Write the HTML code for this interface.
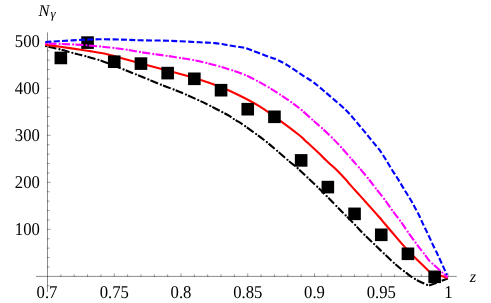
<!DOCTYPE html>
<html><head><meta charset="utf-8"><title>plot</title>
<style>
html,body{margin:0;padding:0;background:#fff;}
body{width:491px;height:303px;overflow:hidden;}
svg{display:block;}
text{font-family:"Liberation Serif",serif;fill:#000;text-rendering:geometricPrecision;}
svg{will-change:transform;}
</style></head><body>
<svg width="491" height="303" viewBox="0 0 491 303">
<rect width="491" height="303" fill="#fff"/>
<g fill-opacity="0.45">
<rect x="36" y="275.9" width="420.8" height="1" fill="#000"/>
<rect x="47" y="32.4" width="1" height="259.6" fill="#000"/>
</g>
<g stroke="#000" stroke-width="0.9" stroke-opacity="0.42" fill="none">
<line x1="60.85" y1="276.9" x2="60.85" y2="274.30"/>
<line x1="74.20" y1="276.9" x2="74.20" y2="274.30"/>
<line x1="87.55" y1="276.9" x2="87.55" y2="274.30"/>
<line x1="100.90" y1="276.9" x2="100.90" y2="274.30"/>
<line x1="114.25" y1="276.9" x2="114.25" y2="273.20"/>
<line x1="127.60" y1="276.9" x2="127.60" y2="274.30"/>
<line x1="140.95" y1="276.9" x2="140.95" y2="274.30"/>
<line x1="154.30" y1="276.9" x2="154.30" y2="274.30"/>
<line x1="167.65" y1="276.9" x2="167.65" y2="274.30"/>
<line x1="181.00" y1="276.9" x2="181.00" y2="273.20"/>
<line x1="194.35" y1="276.9" x2="194.35" y2="274.30"/>
<line x1="207.70" y1="276.9" x2="207.70" y2="274.30"/>
<line x1="221.05" y1="276.9" x2="221.05" y2="274.30"/>
<line x1="234.40" y1="276.9" x2="234.40" y2="274.30"/>
<line x1="247.75" y1="276.9" x2="247.75" y2="273.20"/>
<line x1="261.10" y1="276.9" x2="261.10" y2="274.30"/>
<line x1="274.45" y1="276.9" x2="274.45" y2="274.30"/>
<line x1="287.80" y1="276.9" x2="287.80" y2="274.30"/>
<line x1="301.15" y1="276.9" x2="301.15" y2="274.30"/>
<line x1="314.50" y1="276.9" x2="314.50" y2="273.20"/>
<line x1="327.85" y1="276.9" x2="327.85" y2="274.30"/>
<line x1="341.20" y1="276.9" x2="341.20" y2="274.30"/>
<line x1="354.55" y1="276.9" x2="354.55" y2="274.30"/>
<line x1="367.90" y1="276.9" x2="367.90" y2="274.30"/>
<line x1="381.25" y1="276.9" x2="381.25" y2="273.20"/>
<line x1="394.60" y1="276.9" x2="394.60" y2="274.30"/>
<line x1="407.95" y1="276.9" x2="407.95" y2="274.30"/>
<line x1="421.30" y1="276.9" x2="421.30" y2="274.30"/>
<line x1="434.65" y1="276.9" x2="434.65" y2="274.30"/>
<line x1="448.00" y1="276.9" x2="448.00" y2="273.20"/>
<line x1="47" y1="285.73" x2="49.60" y2="285.73"/>
<line x1="47" y1="266.93" x2="49.60" y2="266.93"/>
<line x1="47" y1="257.53" x2="49.60" y2="257.53"/>
<line x1="47" y1="248.13" x2="49.60" y2="248.13"/>
<line x1="47" y1="238.73" x2="49.60" y2="238.73"/>
<line x1="47" y1="229.33" x2="50.70" y2="229.33"/>
<line x1="47" y1="219.94" x2="49.60" y2="219.94"/>
<line x1="47" y1="210.54" x2="49.60" y2="210.54"/>
<line x1="47" y1="201.14" x2="49.60" y2="201.14"/>
<line x1="47" y1="191.74" x2="49.60" y2="191.74"/>
<line x1="47" y1="182.34" x2="50.70" y2="182.34"/>
<line x1="47" y1="172.94" x2="49.60" y2="172.94"/>
<line x1="47" y1="163.54" x2="49.60" y2="163.54"/>
<line x1="47" y1="154.14" x2="49.60" y2="154.14"/>
<line x1="47" y1="144.74" x2="49.60" y2="144.74"/>
<line x1="47" y1="135.34" x2="50.70" y2="135.34"/>
<line x1="47" y1="125.95" x2="49.60" y2="125.95"/>
<line x1="47" y1="116.55" x2="49.60" y2="116.55"/>
<line x1="47" y1="107.15" x2="49.60" y2="107.15"/>
<line x1="47" y1="97.75" x2="49.60" y2="97.75"/>
<line x1="47" y1="88.35" x2="50.70" y2="88.35"/>
<line x1="47" y1="78.95" x2="49.60" y2="78.95"/>
<line x1="47" y1="69.55" x2="49.60" y2="69.55"/>
<line x1="47" y1="60.15" x2="49.60" y2="60.15"/>
<line x1="47" y1="50.75" x2="49.60" y2="50.75"/>
<line x1="47" y1="41.35" x2="50.70" y2="41.35"/>
</g>
<g font-size="16.7">
<text transform="translate(47.00,298.0) scale(1,1.080)" text-anchor="middle">0.7</text>
<text transform="translate(114.25,298.0) scale(1,1.080)" text-anchor="middle">0.75</text>
<text transform="translate(181.00,298.0) scale(1,1.080)" text-anchor="middle">0.8</text>
<text transform="translate(247.75,298.0) scale(1,1.080)" text-anchor="middle">0.85</text>
<text transform="translate(314.50,298.0) scale(1,1.080)" text-anchor="middle">0.9</text>
<text transform="translate(381.25,298.0) scale(1,1.080)" text-anchor="middle">0.95</text>
<text transform="translate(448.40,298.0) scale(1,1.080)" text-anchor="middle">1</text>
<text transform="translate(39.9,235.40) scale(1,1.080)" text-anchor="end">100</text>
<text transform="translate(39.9,188.35) scale(1,1.080)" text-anchor="end">200</text>
<text transform="translate(39.9,141.30) scale(1,1.080)" text-anchor="end">300</text>
<text transform="translate(39.9,94.25) scale(1,1.080)" text-anchor="end">400</text>
<text transform="translate(39.9,47.20) scale(1,1.080)" text-anchor="end">500</text>
</g>
<text x="38.6" y="15.9" font-size="16.5" font-style="italic">N</text>
<text x="50.6" y="17.8" font-size="13" font-style="italic">γ</text>
<text x="469.8" y="281.8" font-size="16.5" font-style="italic">z</text>
<g fill="none" stroke-width="2.1" stroke-linecap="butt" stroke-linejoin="miter">
<path d="M45.20,46.00 C47.73,46.58 55.85,48.36 60.40,49.50 C64.95,50.64 69.08,51.93 72.50,52.85 C75.92,53.77 76.10,53.67 80.90,55.00 C85.70,56.33 94.48,58.50 101.30,60.80 C108.12,63.10 115.35,66.27 121.80,68.80 C128.25,71.33 133.63,73.42 140.00,76.00 C146.37,78.58 153.33,81.63 160.00,84.30 C166.67,86.97 173.65,89.38 180.00,92.00 C186.35,94.62 193.06,97.68 198.10,100.00 C203.14,102.32 206.23,103.88 210.25,105.90 C214.27,107.92 218.89,110.35 222.20,112.10 C225.51,113.85 228.18,115.25 230.10,116.40 C232.02,117.55 232.05,117.95 233.70,119.00 C235.35,120.05 238.07,121.50 240.00,122.70 C241.93,123.90 242.55,124.29 245.25,126.20 C247.95,128.11 252.57,131.47 256.20,134.15 C259.82,136.83 263.48,139.49 267.00,142.30 C270.52,145.11 273.57,147.80 277.30,151.00 C281.03,154.20 286.00,158.62 289.40,161.50 C292.80,164.38 294.72,165.65 297.70,168.30 C300.68,170.95 304.02,174.30 307.30,177.40 C310.58,180.50 313.95,183.55 317.40,186.90 C320.85,190.25 324.23,193.68 328.00,197.50 C331.77,201.32 337.07,206.83 340.00,209.80 C342.93,212.78 343.09,212.84 345.60,215.35 C348.11,217.86 352.02,221.71 355.05,224.85 C358.08,227.99 360.61,230.99 363.80,234.20 C366.99,237.41 371.20,241.21 374.20,244.10 C377.20,246.99 379.17,249.02 381.80,251.55 C384.43,254.08 387.63,257.09 390.00,259.30 C392.37,261.51 394.17,263.18 396.00,264.80 C397.83,266.42 399.28,267.65 401.00,269.00 C402.72,270.35 404.45,271.53 406.30,272.90 C408.15,274.27 410.21,275.93 412.10,277.20 C413.99,278.47 415.58,279.42 417.65,280.50 C419.72,281.58 422.68,282.84 424.50,283.70 C426.32,284.56 427.92,285.32 428.60,285.65 L447.90,278.60" stroke="#000" stroke-dasharray="8.10 5.36" stroke-dashoffset="10.11"/>
<path d="M45.20,46.00 C47.73,46.58 55.85,48.36 60.40,49.50 C64.95,50.64 69.08,51.93 72.50,52.85 C75.92,53.77 76.10,53.67 80.90,55.00 C85.70,56.33 94.48,58.50 101.30,60.80 C108.12,63.10 115.35,66.27 121.80,68.80 C128.25,71.33 133.63,73.42 140.00,76.00 C146.37,78.58 153.33,81.63 160.00,84.30 C166.67,86.97 173.65,89.38 180.00,92.00 C186.35,94.62 193.06,97.68 198.10,100.00 C203.14,102.32 206.23,103.88 210.25,105.90 C214.27,107.92 218.89,110.35 222.20,112.10 C225.51,113.85 228.18,115.25 230.10,116.40 C232.02,117.55 232.05,117.95 233.70,119.00 C235.35,120.05 238.07,121.50 240.00,122.70 C241.93,123.90 242.55,124.29 245.25,126.20 C247.95,128.11 252.57,131.47 256.20,134.15 C259.82,136.83 263.48,139.49 267.00,142.30 C270.52,145.11 273.57,147.80 277.30,151.00 C281.03,154.20 286.00,158.62 289.40,161.50 C292.80,164.38 294.72,165.65 297.70,168.30 C300.68,170.95 304.02,174.30 307.30,177.40 C310.58,180.50 313.95,183.55 317.40,186.90 C320.85,190.25 324.23,193.68 328.00,197.50 C331.77,201.32 337.07,206.83 340.00,209.80 C342.93,212.78 343.09,212.84 345.60,215.35 C348.11,217.86 352.02,221.71 355.05,224.85 C358.08,227.99 360.61,230.99 363.80,234.20 C366.99,237.41 371.20,241.21 374.20,244.10 C377.20,246.99 379.17,249.02 381.80,251.55 C384.43,254.08 387.63,257.09 390.00,259.30 C392.37,261.51 394.17,263.18 396.00,264.80 C397.83,266.42 399.28,267.65 401.00,269.00 C402.72,270.35 404.45,271.53 406.30,272.90 C408.15,274.27 410.21,275.93 412.10,277.20 C413.99,278.47 415.58,279.42 417.65,280.50 C419.72,281.58 422.68,282.84 424.50,283.70 C426.32,284.56 427.92,285.32 428.60,285.65 L447.90,278.60" stroke="#000" stroke-width="2.3" stroke-linecap="round" stroke-dasharray="0 13.46" stroke-dashoffset="12.37"/>
<path d="M45.20,44.70 C47.73,45.05 54.45,45.97 60.40,46.80 C66.35,47.63 75.97,48.98 80.90,49.70 C85.83,50.42 86.60,50.55 90.00,51.10 C93.40,51.65 97.97,52.35 101.30,53.00 C104.63,53.65 106.58,54.13 110.00,55.00 C113.42,55.87 116.80,56.83 121.80,58.20 C126.80,59.57 131.97,61.02 140.00,63.20 C148.03,65.38 160.00,68.55 170.00,71.30 C180.00,74.05 191.67,77.12 200.00,79.70 C208.33,82.28 213.33,84.13 220.00,86.80 C226.67,89.47 233.33,92.40 240.00,95.70 C246.67,99.00 253.33,102.45 260.00,106.60 C266.67,110.75 273.33,115.75 280.00,120.60 C286.67,125.45 295.83,132.40 300.00,135.70 C304.17,139.00 303.35,138.88 305.00,140.40 C306.65,141.92 307.70,142.80 309.90,144.80 C312.10,146.80 315.55,149.87 318.20,152.40 C320.85,154.93 323.67,157.93 325.80,160.00 C327.93,162.07 329.07,163.02 331.00,164.80 C332.93,166.58 334.87,168.17 337.40,170.70 C339.93,173.23 344.13,177.72 346.20,180.00 C348.27,182.28 347.50,181.80 349.80,184.40 C352.10,187.00 357.47,192.80 360.00,195.60 C362.53,198.40 361.67,197.47 365.00,201.20 C368.33,204.93 376.67,214.20 380.00,218.00 C383.33,221.80 381.67,220.07 385.00,224.00 C388.33,227.93 396.70,237.75 400.00,241.60 C403.30,245.45 402.45,244.57 404.80,247.10 C407.15,249.63 409.88,252.60 414.10,256.80 C418.32,261.00 427.43,269.72 430.10,272.30 L447.90,278.10" stroke="#ff0000"/>
</g>
<g fill="#000">
<rect x="54.55" y="51.65" width="12.60" height="12.60"/>
<rect x="81.25" y="36.30" width="12.60" height="12.60"/>
<rect x="107.95" y="55.40" width="12.60" height="12.60"/>
<rect x="134.65" y="57.30" width="12.60" height="12.60"/>
<rect x="161.35" y="66.80" width="12.60" height="12.60"/>
<rect x="188.05" y="72.50" width="12.60" height="12.60"/>
<rect x="214.75" y="83.90" width="12.60" height="12.60"/>
<rect x="241.45" y="102.90" width="12.60" height="12.60"/>
<rect x="268.15" y="110.50" width="12.60" height="12.60"/>
<rect x="294.85" y="154.10" width="12.60" height="12.60"/>
<rect x="321.55" y="180.80" width="12.60" height="12.60"/>
<rect x="348.25" y="207.55" width="12.60" height="12.60"/>
<rect x="374.95" y="228.50" width="12.60" height="12.60"/>
<rect x="401.65" y="247.50" width="12.60" height="12.60"/>
<rect x="428.35" y="270.50" width="12.60" height="12.60"/>
</g>
<g fill="none" stroke-width="2.1" stroke-linecap="butt" stroke-linejoin="miter">
<path d="M45.20,43.40 C47.73,43.50 54.45,43.75 60.40,44.00 C66.35,44.25 74.08,44.47 80.90,44.90 C87.72,45.33 95.62,46.07 101.30,46.60 C106.98,47.13 110.75,47.58 115.00,48.10 C119.25,48.62 122.63,49.05 126.80,49.70 C130.97,50.35 135.60,51.28 140.00,52.00 C144.40,52.72 148.77,53.37 153.20,54.00 C157.63,54.63 162.17,55.15 166.60,55.80 C171.03,56.45 175.38,57.18 179.80,57.90 C184.22,58.62 188.71,59.27 193.10,60.10 C197.49,60.93 201.77,61.84 206.15,62.90 C210.53,63.96 215.08,65.22 219.40,66.45 C223.72,67.68 227.85,68.89 232.10,70.30 C236.35,71.71 240.73,73.12 244.90,74.90 C249.07,76.68 253.11,78.85 257.10,80.95 C261.09,83.05 265.02,85.23 268.85,87.50 C272.68,89.77 276.39,92.12 280.10,94.55 C283.81,96.98 287.68,99.66 291.10,102.10 C294.52,104.54 296.78,106.02 300.60,109.20 C304.43,112.38 310.50,118.05 314.05,121.20 C317.60,124.35 318.94,125.38 321.90,128.10 C324.86,130.82 328.62,134.35 331.80,137.50 C334.98,140.65 337.53,143.25 340.95,147.00 C344.37,150.75 349.31,156.60 352.30,160.00 C355.29,163.40 356.05,164.07 358.90,167.40 C361.75,170.73 366.60,176.52 369.40,180.00 C372.20,183.48 373.23,185.13 375.70,188.30 C378.17,191.47 381.50,195.40 384.20,199.00 C386.90,202.60 389.25,206.28 391.90,209.90 C394.55,213.52 397.47,217.06 400.10,220.70 C402.73,224.34 405.12,228.08 407.70,231.75 C410.28,235.42 413.55,239.89 415.60,242.70 C417.65,245.51 418.42,246.55 420.00,248.60 C421.58,250.65 423.52,252.93 425.10,255.00 C426.68,257.07 428.77,260.00 429.50,261.00 L447.80,277.40" stroke="#ff00ff" stroke-dasharray="8.10 5.36" stroke-dashoffset="10.17"/>
<path d="M45.20,43.40 C47.73,43.50 54.45,43.75 60.40,44.00 C66.35,44.25 74.08,44.47 80.90,44.90 C87.72,45.33 95.62,46.07 101.30,46.60 C106.98,47.13 110.75,47.58 115.00,48.10 C119.25,48.62 122.63,49.05 126.80,49.70 C130.97,50.35 135.60,51.28 140.00,52.00 C144.40,52.72 148.77,53.37 153.20,54.00 C157.63,54.63 162.17,55.15 166.60,55.80 C171.03,56.45 175.38,57.18 179.80,57.90 C184.22,58.62 188.71,59.27 193.10,60.10 C197.49,60.93 201.77,61.84 206.15,62.90 C210.53,63.96 215.08,65.22 219.40,66.45 C223.72,67.68 227.85,68.89 232.10,70.30 C236.35,71.71 240.73,73.12 244.90,74.90 C249.07,76.68 253.11,78.85 257.10,80.95 C261.09,83.05 265.02,85.23 268.85,87.50 C272.68,89.77 276.39,92.12 280.10,94.55 C283.81,96.98 287.68,99.66 291.10,102.10 C294.52,104.54 296.78,106.02 300.60,109.20 C304.43,112.38 310.50,118.05 314.05,121.20 C317.60,124.35 318.94,125.38 321.90,128.10 C324.86,130.82 328.62,134.35 331.80,137.50 C334.98,140.65 337.53,143.25 340.95,147.00 C344.37,150.75 349.31,156.60 352.30,160.00 C355.29,163.40 356.05,164.07 358.90,167.40 C361.75,170.73 366.60,176.52 369.40,180.00 C372.20,183.48 373.23,185.13 375.70,188.30 C378.17,191.47 381.50,195.40 384.20,199.00 C386.90,202.60 389.25,206.28 391.90,209.90 C394.55,213.52 397.47,217.06 400.10,220.70 C402.73,224.34 405.12,228.08 407.70,231.75 C410.28,235.42 413.55,239.89 415.60,242.70 C417.65,245.51 418.42,246.55 420.00,248.60 C421.58,250.65 423.52,252.93 425.10,255.00 C426.68,257.07 428.77,260.00 429.50,261.00 L447.80,277.40" stroke="#ff00ff" stroke-width="2.3" stroke-linecap="round" stroke-dasharray="0 13.46" stroke-dashoffset="12.43"/>
<path d="M45.20,42.00 C47.73,41.85 54.45,41.45 60.40,41.10 C66.35,40.75 74.42,40.20 80.90,39.90 C87.38,39.60 92.48,39.35 99.30,39.30 C106.12,39.25 115.02,39.43 121.80,39.60 C128.58,39.77 131.97,40.10 140.00,40.30 C148.03,40.50 160.00,40.47 170.00,40.80 C180.00,41.13 192.50,41.92 200.00,42.30 C207.50,42.68 210.47,42.65 215.00,43.10 C219.53,43.55 222.82,44.30 227.20,45.00 C231.58,45.70 238.25,46.82 241.30,47.30 C244.35,47.78 244.80,47.80 245.50,47.90 C246.53,48.30 248.62,49.12 251.70,50.30 C254.78,51.48 260.15,53.58 264.00,55.00 C267.85,56.42 271.58,57.50 274.80,58.80 C278.02,60.10 280.87,61.52 283.30,62.80 C285.73,64.08 287.15,65.07 289.40,66.50 C291.65,67.93 294.35,69.77 296.80,71.40 C299.25,73.03 301.65,74.72 304.10,76.30 C306.55,77.88 309.52,79.57 311.50,80.90 C313.48,82.23 314.10,82.82 315.95,84.30 C317.80,85.78 320.46,88.00 322.60,89.80 C324.74,91.60 325.66,92.40 328.80,95.10 C331.94,97.80 338.28,103.18 341.45,106.00 C344.62,108.82 345.84,109.98 347.80,112.00 C349.76,114.02 351.42,116.02 353.20,118.10 C354.98,120.18 356.72,122.38 358.50,124.50 C360.28,126.62 362.12,128.65 363.90,130.80 C365.68,132.95 367.43,135.23 369.20,137.40 C370.97,139.57 372.72,141.63 374.50,143.80 C376.28,145.97 378.23,148.12 379.90,150.40 C381.57,152.68 383.02,155.15 384.50,157.50 C385.98,159.85 387.33,162.10 388.80,164.50 C390.27,166.90 391.78,169.50 393.30,171.90 C394.82,174.30 396.42,176.53 397.90,178.90 C399.38,181.27 400.75,183.70 402.20,186.10 C403.65,188.50 405.15,190.95 406.60,193.30 C408.05,195.65 409.50,197.81 410.90,200.20 C412.30,202.59 413.67,205.18 415.00,207.65 C416.33,210.12 417.65,212.46 418.90,215.00 C420.15,217.54 421.30,220.35 422.50,222.90 C423.70,225.45 424.90,227.81 426.10,230.30 C427.30,232.79 428.52,235.32 429.70,237.85 C430.88,240.38 432.02,243.03 433.20,245.50 C434.38,247.97 436.20,251.50 436.80,252.70 L447.00,274.90" stroke="#0000ff" stroke-dasharray="6.0 2.403" stroke-dashoffset="8.22"/>
</g>
</svg>
</body></html>
